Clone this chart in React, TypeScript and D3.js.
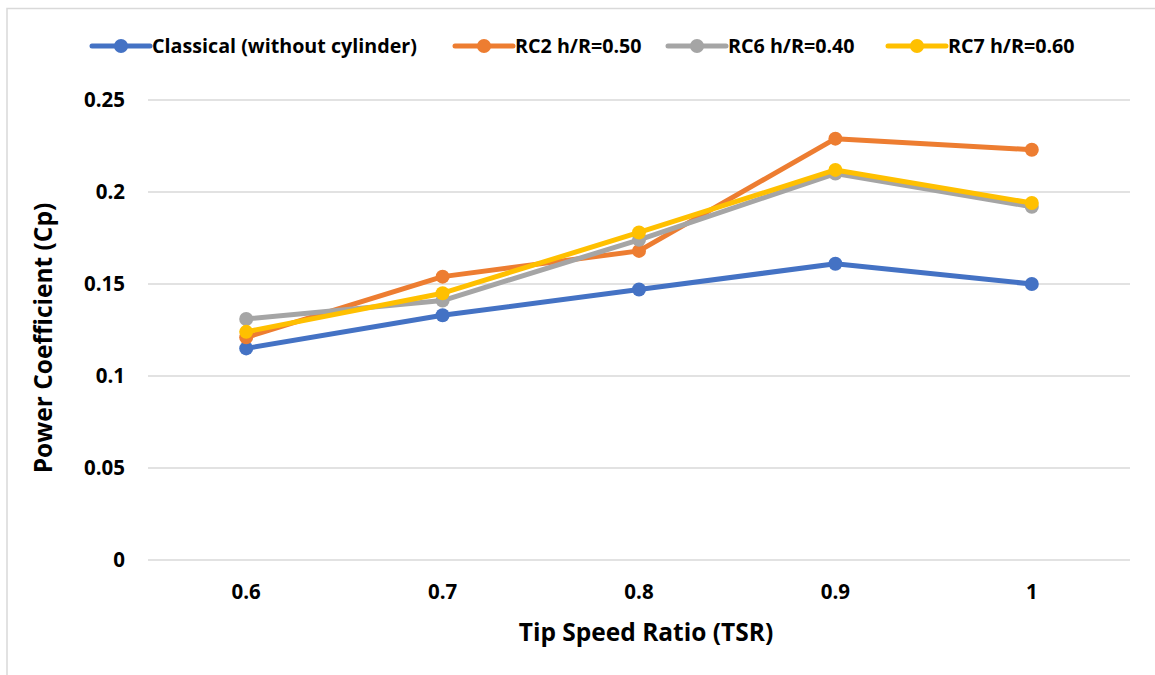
import React from "react";
import * as d3 from "d3";

const categories = ["0.6", "0.7", "0.8", "0.9", "1"];
const classical = [0.115, 0.133, 0.147, 0.161, 0.15];
const rc2 = [0.121, 0.154, 0.168, 0.229, 0.223];
const rc6 = [0.131, 0.141, 0.174, 0.21, 0.192];
const rc7 = [0.124, 0.145, 0.178, 0.212, 0.194];
const seriesNames = ["Classical (without cylinder)", "RC2 h/R=0.50", "RC6 h/R=0.40", "RC7 h/R=0.60"];
const seriesColors = ["#4472C4", "#ED7D31", "#A5A5A5", "#FFC000"];
const yTicks = [0, 0.05, 0.1, 0.15, 0.2, 0.25];

const W = 1155, H = 675;
const plot = { left: 148, right: 1130, top: 100, bottom: 560 };
const FONT = "'Open Sans', Lato, sans-serif";

export default function App() {
  const x = d3.scaleBand().domain(categories).range([plot.left, plot.right]);
  const y = d3.scaleLinear().domain([0, 0.25]).range([plot.bottom, plot.top]);
  const data = [classical, rc2, rc6, rc7];
  const line = d3
    .line<number>()
    .x((_, i) => (x(categories[i]) as number) + x.bandwidth() / 2)
    .y((d) => y(d));
  const legendX = [92, 455, 668, 888];
  const legendY = 46;
  return (
    <svg width={W} height={H} style={{ position: "absolute", top: 0, left: 0, background: "#fff" }} fontFamily={FONT}>
      <rect x={7} y={8.5} width={W + 20} height={H + 20} fill="#fff" stroke="#D9D9D9" strokeWidth={1.5} />
      {yTicks.map((t) => (
        <g key={t}>
          <line x1={plot.left} x2={plot.right} y1={y(t)} y2={y(t)} stroke="#D9D9D9" strokeWidth={1.5} />
          <text x={125} y={y(t)} dy="0.35em" textAnchor="end" fontSize={20.5} fontWeight={700} fill="#000">
            {String(t)}
          </text>
        </g>
      ))}
      {categories.map((c) => (
        <text key={c} x={(x(c) as number) + x.bandwidth() / 2} y={592} dy="0.35em" textAnchor="middle" fontSize={20.5} fontWeight={700} fill="#000">
          {c}
        </text>
      ))}
      {data.map((s, si) => (
        <g key={si}>
          <path d={line(s) || ""} fill="none" stroke={seriesColors[si]} strokeWidth={5} strokeLinejoin="round" strokeLinecap="round" />
          {s.map((v, i) => (
            <circle key={i} cx={(x(categories[i]) as number) + x.bandwidth() / 2} cy={y(v)} r={7} fill={seriesColors[si]} />
          ))}
        </g>
      ))}
      {seriesNames.map((n, i) => (
        <g key={n}>
          <line x1={legendX[i]} x2={legendX[i] + 58} y1={legendY} y2={legendY} stroke={seriesColors[i]} strokeWidth={5} strokeLinecap="round" />
          <circle cx={legendX[i] + 29} cy={legendY} r={7} fill={seriesColors[i]} />
          <text x={legendX[i] + 60} y={legendY} dy="0.35em" fontSize={19.7} fontWeight={700} fill="#000">
            {n}
          </text>
        </g>
      ))}
      <text x={646} y={632} dy="0.35em" textAnchor="middle" fontSize={24.5} fontWeight={700} fill="#000">
        Tip Speed Ratio (TSR)
      </text>
      <text transform={`translate(43,${(plot.top + plot.bottom) / 2 + 8}) rotate(-90)`} dy="0.35em" textAnchor="middle" fontSize={24.5} fontWeight={700} fill="#000">
        Power Coefficient (Cp)
      </text>
    </svg>
  );
}
